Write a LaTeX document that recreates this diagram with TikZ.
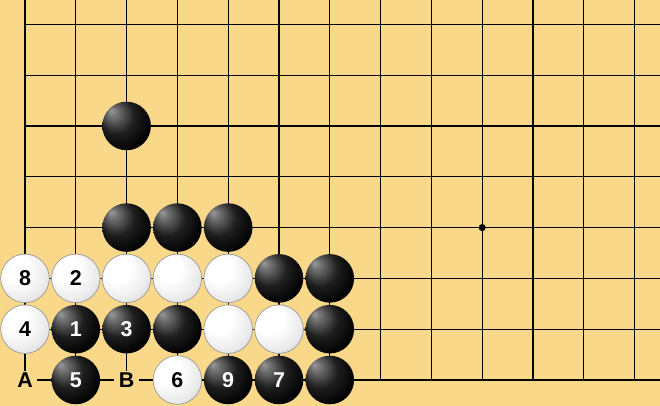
\documentclass[tikz,border=0pt]{standalone}
\usepackage{fontspec}
\setsansfont{Liberation Sans}
\usepackage{xcolor}
\definecolor{boardyellow}{HTML}{F9D88A}
\pgfdeclareradialshading{blackball}{\pgfpoint{-16bp}{16bp}}{%
  color(0bp)=(black!40); color(5bp)=(black!55); color(18bp)=(black!88);
  color(32bp)=(black); color(44bp)=(black); color(50bp)=(black!85)}
\pgfdeclareradialshading{whiteball}{\pgfpoint{-14bp}{14bp}}{%
  color(0bp)=(white); color(14bp)=(white); color(28bp)=(black!8);
  color(42bp)=(black!22); color(50bp)=(black!38)}

\begin{document}
\begin{tikzpicture}[
    gridline/.style={draw=black, line width=0.7pt},
    stone/.style={
        circle,
        minimum size=0.956cm,
        inner sep=0pt,
        font=\sffamily\bfseries\fontsize{12}{12}\selectfont,
    },
    blackstone/.style={stone, shading=blackball, text=white},
    whitestone/.style={stone, shading=whiteball, draw=black!40, line width=0.4pt, text=black},
    pointlabel/.style={
        fill=boardyellow,
        inner xsep=2.5pt,
        inner ysep=1pt,
        text depth=0pt,
        font=\sffamily\bfseries\fontsize{12}{12}\selectfont,
    },
]

\fill[boardyellow] (-0.492,-0.512) rectangle (12.5,7.48);
\useasboundingbox (-0.492,-0.512) rectangle (12.5,7.48);

% board
\draw[gridline] (0,0) grid (12.5,7.48);
\draw[line width=1pt] (0,7.48) -- (0,0) -- (12.5,0);
\fill (9,3) circle (0.07);

% stones already on the board
\node[blackstone] (S1) at (2, 5) {};
\node[blackstone] (S2) at (2, 3) {};
\node[blackstone] (S3) at (3, 3) {};
\node[blackstone] (S4) at (4, 3) {};
\node[whitestone] (S5) at (2, 2) {};
\node[whitestone] (S6) at (3, 2) {};
\node[whitestone] (S7) at (4, 2) {};
\node[blackstone] (S8) at (5, 2) {};
\node[blackstone] (S9) at (6, 2) {};
\node[blackstone] (S10) at (3, 1) {};
\node[whitestone] (S11) at (4, 1) {};
\node[whitestone] (S12) at (5, 1) {};
\node[blackstone] (S13) at (6, 1) {};
\node[blackstone] (S14) at (6, 0) {};

% numbered moves
\node[blackstone] (M1) at (1, 1) {1};
\node[whitestone] (M2) at (1, 2) {2};
\node[blackstone] (M3) at (2, 1) {3};
\node[whitestone] (M4) at (0, 1) {4};
\node[blackstone] (M5) at (1, 0) {5};
\node[whitestone] (M6) at (3, 0) {6};
\node[blackstone] (M7) at (5, 0) {7};
\node[whitestone] (M8) at (0, 2) {8};
\node[blackstone] (M9) at (4, 0) {9};

% points
\node[pointlabel] (PA) at (0, 0) {A};
\node[pointlabel] (PB) at (2, 0) {B};

\end{tikzpicture}
\end{document}
